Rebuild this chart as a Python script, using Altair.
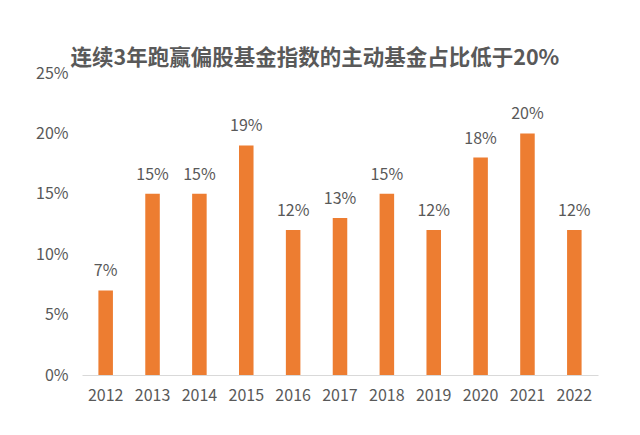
import altair as alt
import pandas as pd

years = ["2012", "2013", "2014", "2015", "2016", "2017", "2018", "2019", "2020", "2021", "2022"]
shares = [0.07, 0.15, 0.15, 0.19, 0.12, 0.13, 0.15, 0.12, 0.18, 0.20, 0.12]
y_ticks = [0, 0.05, 0.10, 0.15, 0.20, 0.25]
title_text = "连续3年跑赢偏股基金指数的主动基金占比低于20%"

df = pd.DataFrame({"year": years, "share": shares})

TFONT = "Noto Sans CJK SC"
NFONT = "Noto Sans CJK SC"
GRAY = "#595959"

base = alt.Chart(df).encode(
    x=alt.X("year:N", sort=years, title=None,
            scale=alt.Scale(paddingInner=0.69, paddingOuter=0.35),
            axis=alt.Axis(labelAngle=0, ticks=False, domainColor="#d9d9d9", domainWidth=1,
                          labelFont=NFONT, labelFontSize=16, labelColor=GRAY, labelPadding=12)),
    y=alt.Y("share:Q", title=None,
            scale=alt.Scale(domain=[0, 0.25], nice=False),
            axis=alt.Axis(values=y_ticks, format=".0%", grid=False, domain=False, ticks=False,
                          labelFont=NFONT, labelFontSize=16, labelColor=GRAY, labelPadding=14)),
)

bars = base.mark_bar(color="#ED7D31")
labels = base.mark_text(baseline="bottom", dy=-11, font=NFONT, fontSize=16, color=GRAY).encode(
    text=alt.Text("share:Q", format=".0%")
)

chart = (bars + labels).properties(
    width=516, height=302,
    title=alt.TitleParams(title_text, font=TFONT, fontSize=21.5, fontWeight="bold", color=GRAY,
                          anchor="start", dx=35, offset=-4),
    autosize=alt.AutoSizeParams(type="none"),
    padding={"left": 74, "top": 65, "right": 20, "bottom": 40},
).configure_view(stroke=None)

chart.save("out.html", embed_options={"renderer": "svg", "actions": False})
